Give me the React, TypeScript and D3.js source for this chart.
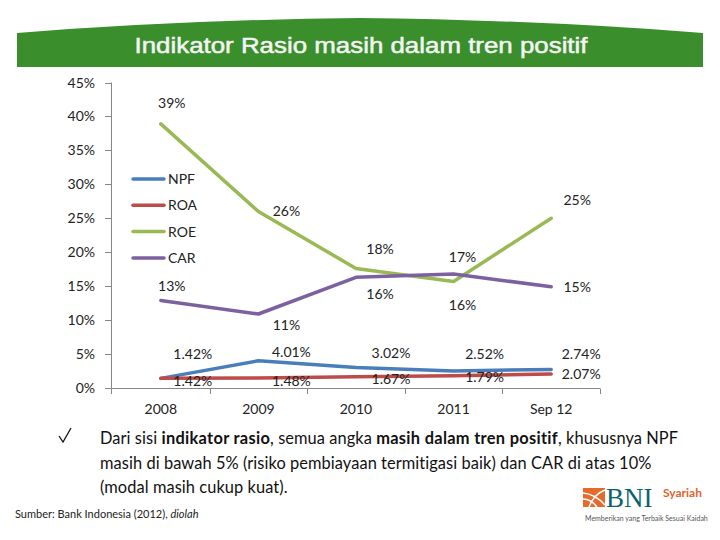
import React from "react";
import * as d3 from "d3";

const categories = ["2008", "2009", "2010", "2011", "Sep 12"];
const seriesNames = ["NPF", "ROA", "ROE", "CAR"];
const npfValues = [1.42, 4.01, 3.02, 2.52, 2.74];
const roaValues = [1.42, 1.48, 1.67, 1.79, 2.07];
const roeValues = [38.9, 26.0, 17.6, 15.7, 25.0];
const carValues = [12.9, 10.9, 16.3, 16.8, 14.9];
const npfLabels = ["1.42%", "4.01%", "3.02%", "2.52%", "2.74%"];
const roaLabels = ["1.42%", "1.48%", "1.67%", "1.79%", "2.07%"];
const roeLabels = ["39%", "26%", "18%", "17%", "25%"];
const carLabels = ["13%", "11%", "16%", "16%", "15%"];
const yTicks = [0, 5, 10, 15, 20, 25, 30, 35, 40, 45];

const colors: Record<string, string> = {
  NPF: "#4a7ebb",
  ROA: "#be4b48",
  ROE: "#98b954",
  CAR: "#7d60a0",
};

// label placement nudges (layout, hand-placed like the original)
const nudge: Record<string, { dx: number[]; dy: number[] }> = {
  NPF: { dx: [32, 33, 35, 31, 30], dy: [-19, -4, -9, -12, -10] },
  ROA: { dx: [32, 33, 35, 31, 30], dy: [8, 8, 7, 6, 5] },
  ROE: { dx: [11, 28, 24, 9, 26], dy: [-16, 5, -15, -19, -13] },
  CAR: { dx: [11, 28, 24, 9, 26], dy: [-9, 16, 22, 36, 5] },
};

const FONT = "Lato, 'Open Sans', sans-serif";

export default function App() {
  const W = 720;
  const H = 540;
  const x = d3.scaleBand<string>().domain(categories).range([112, 600]).padding(0);
  const y = d3.scaleLinear().domain([0, 45]).range([388, 82.5]);
  const cx = (c: string) => (x(c) as number) + x.bandwidth() / 2;

  const series = [
    { name: "NPF", values: npfValues, labels: npfLabels },
    { name: "ROA", values: roaValues, labels: roaLabels },
    { name: "ROE", values: roeValues, labels: roeLabels },
    { name: "CAR", values: carValues, labels: carLabels },
  ];

  const line = d3
    .line<number>()
    .x((_, i) => cx(categories[i]))
    .y((d) => y(d))
    .curve(d3.curveLinear);

  const bannerPath = "M17,33 Q180,20 360,18 Q540,20 703,33 L703,67 L17,67 Z";

  return (
    <svg width={W} height={H} style={{ position: "absolute", left: 0, top: 0, background: "#fff" }}>
      <rect x={0} y={0} width={W} height={H} fill="#ffffff" />
      {/* Banner */}
      <path d={bannerPath} fill="#3a8e2b" />
      <text
        x={361}
        y={53}
        textAnchor="middle"
        fill="#f4f4f4"
        fontFamily="'Liberation Sans', Arial, sans-serif"
        fontWeight="normal"
        stroke="#f4f4f4"
        strokeWidth={0.5}
        fontSize={22}
        textLength={453}
        lengthAdjust="spacingAndGlyphs"
      >
        Indikator Rasio masih dalam tren positif
      </text>

      {/* Axes */}
      <g stroke="#868686" strokeWidth={1} fill="none">
        <line x1={111.5} y1={y(45)} x2={111.5} y2={y(0)} />
        <line x1={111.5} y1={388.5} x2={600} y2={388.5} />
        {yTicks.map((t) => (
          <line key={t} x1={105} x2={111.5} y1={Math.round(y(t)) + 0.5} y2={Math.round(y(t)) + 0.5} />
        ))}
        {categories.map((c) => (
          <line key={c} x1={Math.round((x(c) as number) + x.bandwidth()) + 0.5} x2={Math.round((x(c) as number) + x.bandwidth()) + 0.5} y1={388.5} y2={394} />
        ))}
        <line x1={111.5} x2={111.5} y1={388.5} y2={394} />
      </g>
      <g fontFamily={FONT} fontSize={14} fill="#222">
        {yTicks.map((t) => (
          <text key={t} x={95} y={y(t) + 5} textAnchor="end">
            {t + "%"}
          </text>
        ))}
        {categories.map((c) => (
          <text key={c} x={cx(c)} y={414} textAnchor="middle">
            {c}
          </text>
        ))}
      </g>

      {/* Lines */}
      {series.map((s) => (
        <path
          key={s.name}
          d={line(s.values) as string}
          fill="none"
          stroke={colors[s.name]}
          strokeWidth={3.5}
          strokeLinecap="round"
          strokeLinejoin="round"
        />
      ))}

      {/* Data labels */}
      <g fontFamily={FONT} fontSize={14} fill="#222" textAnchor="middle">
        {series.map((s) =>
          s.values.map((v, i) => (
            <text
              key={s.name + i}
              x={cx(categories[i]) + nudge[s.name].dx[i]}
              y={y(v) + nudge[s.name].dy[i]}
            >
              {s.labels[i]}
            </text>
          ))
        )}
      </g>

      {/* Legend */}
      <g fontFamily={FONT} fontSize={14} fill="#222">
        {seriesNames.map((n, i) => (
          <g key={n} transform={`translate(0, ${179 + i * 26.3})`}>
            <line x1={133} x2={164} y1={0} y2={0} stroke={colors[n]} strokeWidth={3.5} strokeLinecap="round" />
            <text x={168} y={5}>
              {n}
            </text>
          </g>
        ))}
      </g>

      {/* Bullet text */}
      <g fontFamily={FONT} fontSize={16.4} fill="#111" letterSpacing={0.07}>
        <path d="M59,436 L63,442 L71,428" stroke="#111" strokeWidth={1.3} fill="none" />
        <text x={100} y={444}>
          <tspan>Dari sisi </tspan>
          <tspan fontWeight="bold" letterSpacing={0.3}>indikator rasio</tspan>
          <tspan>, semua angka </tspan>
          <tspan fontWeight="bold" letterSpacing={0.3}>masih dalam tren positif</tspan>
          <tspan>, khususnya NPF</tspan>
        </text>
        <text x={100} y={469}>
          masih di bawah 5% (risiko pembiayaan termitigasi baik) dan CAR di atas 10%
        </text>
        <text x={100} y={493}>(modal masih cukup kuat).</text>
      </g>
      <text x={15} y={518} fontFamily={FONT} fontSize={11} fill="#222">
        Sumber: Bank Indonesia (2012), <tspan fontStyle="italic">diolah</tspan>
      </text>

      {/* BNI Syariah logo */}
      <g>
        <rect x={583} y={488} width={22} height={19} fill="#e7692c" />
        <path d="M583,493 Q595,494 605,505" stroke="#fff" strokeWidth={1.6} fill="none" />
        <path d="M583,499 Q591,499 597,507" stroke="#fff" strokeWidth={1.6} fill="none" />
        <path d="M605,490 Q594,494 589,507" stroke="#fff" strokeWidth={1.6} fill="none" />
        <text x={606} y={507} fontFamily="'Liberation Serif', 'DejaVu Serif', serif" fontSize={27} fill="#0a6470">
          BNI
        </text>
        <text x={663} y={497} fontFamily={FONT} fontWeight="bold" fontSize={12} fill="#e2622a">
          Syariah
        </text>
        <text x={585} y={521} fontFamily={FONT} fontSize={7} fill="#555">
          Memberikan yang Terbaik Sesuai Kaidah
        </text>
      </g>
    </svg>
  );
}
